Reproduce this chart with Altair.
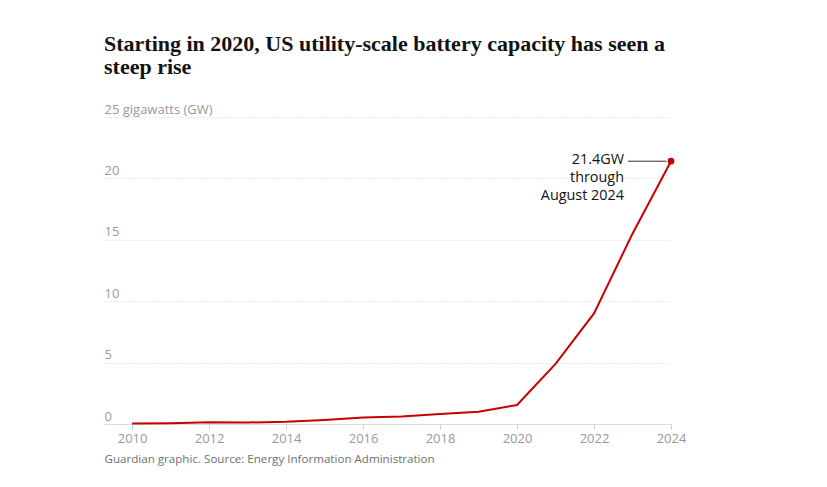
import altair as alt
import pandas as pd

years = [2010, 2011, 2012, 2013, 2014, 2015, 2016, 2017, 2018, 2019, 2020, 2021, 2022, 2023, 2024]
capacity_gw = [0.05, 0.07, 0.15, 0.12, 0.18, 0.32, 0.52, 0.62, 0.82, 1.0, 1.55, 4.9, 9.0, 15.5, 21.4]

y_ticks = [0, 5, 10, 15, 20, 25]
x_ticks = [2010, 2012, 2014, 2016, 2018, 2020, 2022, 2024]

annotation_text = ["21.4GW", "through", "August 2024"]
connector_start = [2022.88]
connector_end = [2023.88]

title_lines = ["Starting in 2020, US utility-scale battery capacity has seen a", "steep rise"]
footer = "Guardian graphic. Source: Energy Information Administration"

df = pd.DataFrame({"year": years, "gw": capacity_gw})
last = pd.DataFrame({"year": [years[-1]], "gw": [capacity_gw[-1]], "label": ["\n".join(annotation_text)]})
conn = pd.DataFrame({"x1": connector_start, "x2": connector_end, "gw": [capacity_gw[-1]]})

SANS = "Open Sans"
x_scale = alt.Scale(domain=[2009.27, 2024], nice=False, zero=False)
y_scale = alt.Scale(domain=[0, 25], nice=False)

base = alt.Chart(df)

line = base.mark_line(color="#c70000", strokeWidth=2).encode(
    x=alt.X("year:Q", scale=x_scale,
            axis=alt.Axis(values=x_ticks, format="d", title=footer, titleAnchor="start",
                          titleAlign="left", titleFont=SANS, titleFontSize=11.6, titleFontWeight="normal",
                          titleColor="#707070", titlePadding=8,
                          labelFont=SANS, labelFontSize=13, labelColor="#999999", labelPadding=3,
                          tickColor="#cccccc", tickSize=5, domainColor="#dcdcdc", grid=False,
                          labelFlush=False)),
    y=alt.Y("gw:Q", scale=y_scale,
            axis=alt.Axis(values=y_ticks, title=None, orient="left", labelAlign="left",
                          labelBaseline="alphabetic", labelPadding=0, tickSize=0, ticks=False,
                          labelOffset=-4, domain=False, grid=True, gridColor="#d6d6d6",
                          gridDash=[1, 2], labelFont=SANS, labelFontSize=13, labelColor="#999999",
                          labelExpr="datum.value == 25 ? '25 gigawatts (GW)' : datum.label")),
)

point = alt.Chart(last).mark_point(filled=True, color="#c70000", size=45, opacity=1).encode(
    x=alt.X("year:Q", scale=x_scale), y=alt.Y("gw:Q", scale=y_scale))

connector = alt.Chart(conn).mark_rule(color="#333333", strokeWidth=1).encode(
    x=alt.X("x1:Q", scale=x_scale), x2="x2:Q", y=alt.Y("gw:Q", scale=y_scale))

label = alt.Chart(last).mark_text(align="right", baseline="top", dx=-47, dy=-8, lineBreak="\n",
                                  lineHeight=18, font=SANS, fontSize=14.4, color="#121212").encode(
    x=alt.X("year:Q", scale=x_scale), y=alt.Y("gw:Q", scale=y_scale), text="label:N")

chart = alt.layer(line, connector, point, label).properties(
    width=567, height=307,
    autosize=alt.AutoSizeParams(type="none"),
    padding={"left": 96, "top": 109, "right": 148, "bottom": 54},
    title=alt.TitleParams(title_lines, anchor="start", frame="group", font="Liberation Serif",
                          fontSize=22, fontWeight="bold", color="#121212", lineHeight=23,
                          offset=24, orient="top"),
).configure_view(stroke=None)

chart.save("out.html", embed_options={"renderer": "svg", "actions": False})
